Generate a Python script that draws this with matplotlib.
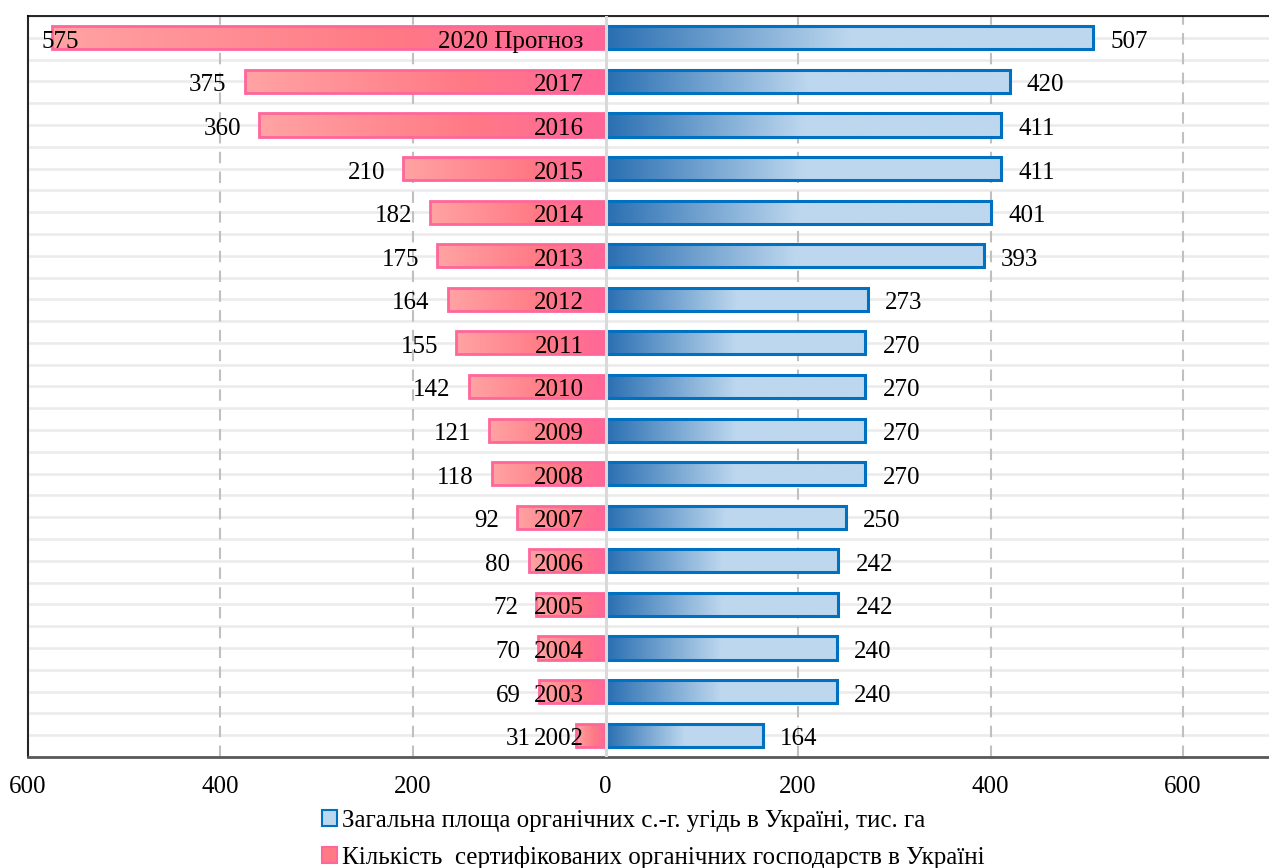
import numpy as np
import matplotlib
matplotlib.use('Agg')
import matplotlib.pyplot as plt
from matplotlib.colors import LinearSegmentedColormap
from matplotlib.patches import Patch

plt.rcParams['font.family'] = ['Liberation Serif', 'DejaVu Serif']

# дані
years = ['2020 Прогноз', '2017', '2016', '2015', '2014', '2013', '2012', '2011', '2010',
         '2009', '2008', '2007', '2006', '2005', '2004', '2003', '2002']
farms = [575, 375, 360, 210, 182, 175, 164, 155, 142, 121, 118, 92, 80, 72, 70, 69, 31]
area = [507, 420, 411, 411, 401, 393, 273, 270, 270, 270, 270, 250, 242, 242, 240, 240, 164]
tick_values = [-600, -400, -200, 0, 200, 400, 600]
tick_labels = ['600', '400', '200', '0', '200', '400', '600']
legend_labels = ['Загальна площа органічних с.-г. угідь в Україні, тис. га',
                 'Кількість  сертифікованих органічних господарств в Україні']

W, H = 1269, 868
fig = plt.figure(figsize=(W / 100, H / 100), dpi=100)
ax = fig.add_axes([28 / W, (H - 757) / H, 1 - 28 / W, (757 - 16) / H])

x_min = -600
x_max = x_min + (W - 28) / 0.9625
fs = 18
dy = -4  # зсув підписів униз, px

red_cmap = LinearSegmentedColormap.from_list('red_g', [(0, '#ffa3a3'), (0.6, '#ff7a85'), (1, '#ff6699')])
blue_cmap = LinearSegmentedColormap.from_list('blue_g', [(0, '#2a6fb2'), (0.5, '#bdd7ee'), (1, '#bdd7ee')])

pos = np.arange(len(years))
bar_h = 0.53

red_bars = ax.barh(pos, [-v for v in farms], height=bar_h, facecolor='none',
                   edgecolor='#ff6699', linewidth=2, zorder=3)
blue_bars = ax.barh(pos, area, height=bar_h, facecolor='none',
                    edgecolor='#0070c0', linewidth=2.2, zorder=3)

grad = np.linspace(0, 1, 256).reshape(1, -1)


def fill_gradient(bars, cmap):
    for b in bars:
        x0 = min(b.get_x(), b.get_x() + b.get_width())
        x1 = max(b.get_x(), b.get_x() + b.get_width())
        y0 = b.get_y()
        y1 = y0 + b.get_height()
        im = ax.imshow(grad, cmap=cmap, extent=[x0, x1, y1, y0], aspect='auto',
                       interpolation='bilinear', zorder=2)
        im.set_clip_path(b)


fill_gradient(red_bars, red_cmap)
fill_gradient(blue_bars, blue_cmap)

# підписи
for i, (y, f, a) in enumerate(zip(years, farms, area)):
    ax.annotate(y, (0, i), xytext=(-22, dy), textcoords='offset pixels',
                ha='right', va='center', fontsize=fs, zorder=5)
    ax.annotate(str(a), (a, i), xytext=(17, dy), textcoords='offset pixels',
                ha='left', va='center', fontsize=fs, zorder=5)
    if f > 560:
        ax.annotate(str(f), (x_min, i), xytext=(14, dy), textcoords='offset pixels',
                    ha='left', va='center', fontsize=fs, zorder=5)
    else:
        ax.annotate(str(f), (-max(f, 59), i), xytext=(-18, dy), textcoords='offset pixels',
                    ha='right', va='center', fontsize=fs, zorder=5)

# сітка
for k in np.arange(-0.5, len(years), 0.5):
    ax.axhline(k, color='#ebebeb', linewidth=1.8, zorder=0)
for xv in [-400, -200, 200, 400, 600]:
    ax.axvline(xv, color='#c0c0c0', linewidth=1.5, dashes=(5.5, 4), zorder=1)
ax.axvline(0, color='#d9d9d9', linewidth=2.2, zorder=4)

ax.set_xlim(x_min, x_max)
ax.set_ylim(len(years) - 0.5, -0.5)
ax.set_xticks(tick_values)
ax.set_xticklabels(tick_labels, fontsize=fs)
ax.set_yticks([])
ax.tick_params(axis='x', length=0, pad=14)

ax.spines['right'].set_visible(False)
ax.spines['top'].set_color('black')
ax.spines['top'].set_linewidth(1.2)
ax.spines['left'].set_color('#262626')
ax.spines['left'].set_linewidth(1.5)
ax.spines['bottom'].set_color('#595959')
ax.spines['bottom'].set_linewidth(2)

handles = [Patch(facecolor='#bdd7ee', edgecolor='#0070c0', linewidth=1.5),
           Patch(facecolor='#ff7a85', edgecolor='#ff6699', linewidth=1.5)]
fig.legend(handles, legend_labels, loc='upper left', bbox_to_anchor=(322 / W, 1 - 810 / H),
           frameon=False, fontsize=fs, handlelength=0.6, handleheight=0.6,
           handletextpad=0.2, labelspacing=0.55, borderaxespad=0, borderpad=0)

fig.savefig('out.png', dpi=100)
